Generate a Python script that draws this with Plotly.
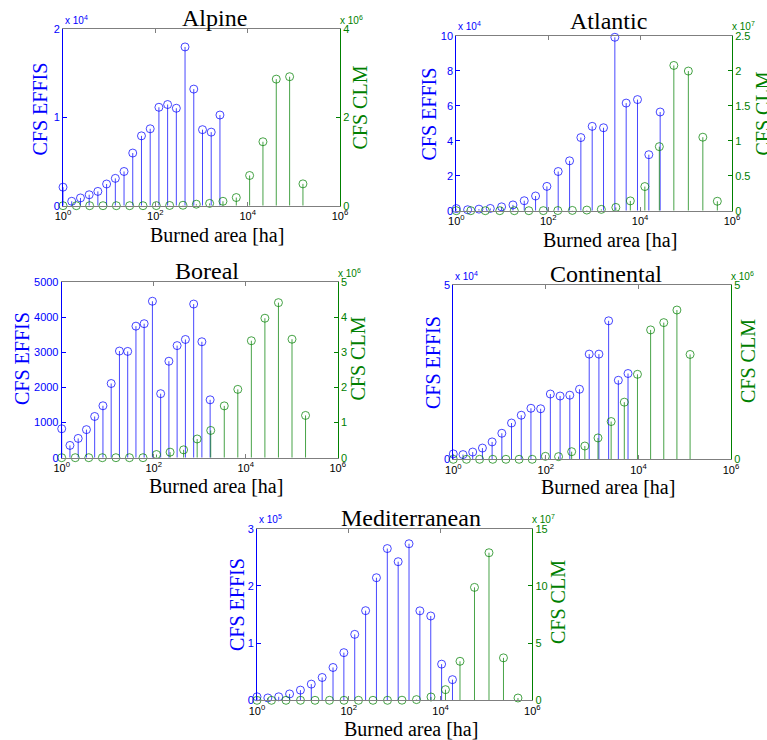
import plotly.graph_objects as go

W, H = 767, 740
BLUE = "rgb(0,0,255)"
GREEN = "rgb(0,128,0)"
STEM_BLUE = "rgba(0,0,255,0.72)"
STEM_GREEN = "rgba(0,128,0,0.72)"
GRAY = "#7f7f7f"
SERIF = "Liberation Serif, Times New Roman, serif"
SANS = "Liberation Sans, Arial, sans-serif"

# ---------------- data ----------------
regions = ["Alpine", "Atlantic", "Boreal", "Continental", "Mediterranean"]

alpine_effis_x = [1, 1.545, 2.39, 3.69, 5.69, 8.8, 13.6, 21.0, 32.4, 50.1, 77.4, 119.5, 184.6, 285, 440, 680, 1051, 1623, 2508]
alpine_effis = [2100, 500, 880, 1240, 1620, 2460, 3100, 3880, 5970, 7920, 8720, 11160, 11470, 11050, 18000, 13220, 8620, 8340, 10280]
alpine_clm_x = [1, 1.944, 3.78, 7.35, 14.3, 27.8, 54.0, 105, 204, 397, 772, 1500, 2917, 5670, 11020, 21430, 41660, 81000, 157500]
alpine_clm = [0, 0, 0, 0, 0, 0, 0, 2000, 5000, 10000, 34000, 52000, 100000, 185000, 685000, 1450000, 2870000, 2925000, 495000]

atlantic_effis_x = [1, 1.764, 3.11, 5.49, 9.68, 17.1, 30.1, 53.1, 93.7, 165, 292, 514, 907, 1600, 2822, 4977, 8780, 15490, 27320]
atlantic_effis = [1200, 550, 900, 1300, 2200, 3300, 5700, 8400, 13900, 22400, 28500, 41800, 48200, 47400, 99100, 61500, 63500, 32000, 56400]
atlantic_clm_x = [1, 2.068, 4.28, 8.85, 18.3, 37.9, 78.3, 162, 335, 693, 1433, 2964, 6130, 12680, 26220, 54230, 112200, 232000, 479800]
atlantic_clm = [0, 0, 0, 0, 0, 0, 10000, 20000, 40000, 90000, 190000, 470000, 1400000, 3450000, 9150000, 20750000, 19950000, 10500000, 1350000]

boreal_effis_x = [1, 1.511, 2.283, 3.45, 5.21, 7.88, 11.9, 18.0, 27.2, 41.1, 62.0, 93.8, 141.7, 214, 323, 489, 739, 1116, 1686]
boreal_effis = [825, 350, 550, 800, 1175, 1480, 2115, 3040, 3030, 3750, 3820, 4460, 1825, 2750, 3195, 3370, 4380, 3305, 1650]
boreal_clm_x = [1, 1.97, 3.88, 7.65, 15.1, 29.7, 58.5, 115, 227, 447, 881, 1736, 3420, 6737, 13270, 26150, 51520, 101500, 199900]
boreal_clm = [0, 0, 0, 0, 0, 0, 0, 90000, 158000, 224000, 534000, 777000, 1477000, 1948000, 3334000, 3976000, 4420000, 3377000, 1205000]

continental_effis_x = [1, 1.621, 2.627, 4.26, 6.90, 11.19, 18.1, 29.4, 47.6, 77.2, 125, 203, 329, 533, 864, 1400, 2270, 3680, 5960]
continental_effis = [1550, 1350, 2080, 3220, 4980, 7450, 10390, 12620, 14610, 14470, 18690, 18120, 18360, 20060, 30120, 30120, 39660, 22630, 24570]
continental_clm_x = [1, 1.924, 3.70, 7.12, 13.7, 26.4, 50.7, 97.6, 188, 361, 695, 1337, 2573, 4950, 9525, 18330, 35270, 67860, 130600]
continental_clm = [0, 0, 0, 0, 0, 0, 0, 85000, 76000, 218000, 380000, 612000, 1082000, 1636000, 2434000, 3705000, 3914000, 4275000, 3003000]

med_effis_x = [1, 1.724, 2.974, 5.13, 8.84, 15.25, 26.3, 45.4, 78.2, 134.9, 232.7, 401, 692, 1193, 2058, 3549, 6120, 10550, 18200]
med_effis = [6100, 4100, 6100, 11100, 17800, 28300, 39900, 57400, 83300, 115300, 156700, 214300, 265300, 242300, 273700, 156400, 147400, 63200, 36100]
med_clm_x = [1, 2.07, 4.29, 8.87, 18.4, 38.0, 78.7, 163, 337, 698, 1445, 2992, 6194, 12820, 26550, 54950, 113800, 235500, 487500]
med_clm = [0, 0, 0, 0, 0, 0, 0, 0, 0, 0, 100000, 600000, 2900000, 9300000, 34100000, 98700000, 129000000, 37100000, 2000000]

x_tickvals = [1, 1e2, 1e4, 1e6]
x_ticktext = ["10<sup>0</sup>", "10<sup>2</sup>", "10<sup>4</sup>", "10<sup>6</sup>"]

alpine_left_ticks = [0, 1e4, 2e4]
alpine_left_text = ["0", "1", "2"]
alpine_right_ticks = [0, 2e6, 4e6]
alpine_right_text = ["0", "2", "4"]

atlantic_left_ticks = [0, 2e4, 4e4, 6e4, 8e4, 1e5]
atlantic_left_text = ["0", "2", "4", "6", "8", "10"]
atlantic_right_ticks = [0, 5e6, 1e7, 1.5e7, 2e7, 2.5e7]
atlantic_right_text = ["0", "0.5", "1", "1.5", "2", "2.5"]

boreal_left_ticks = [0, 1000, 2000, 3000, 4000, 5000]
boreal_left_text = ["0", "1000", "2000", "3000", "4000", "5000"]
boreal_right_ticks = [0, 1e6, 2e6, 3e6, 4e6, 5e6]
boreal_right_text = ["0", "1", "2", "3", "4", "5"]

continental_left_ticks = [0, 5e4]
continental_left_text = ["0", "5"]
continental_right_ticks = [0, 5e6]
continental_right_text = ["0", "5"]

med_left_ticks = [0, 1e5, 2e5, 3e5]
med_left_text = ["0", "1", "2", "3"]
med_right_ticks = [0, 5e7, 1e8, 1.5e8]
med_right_text = ["0", "5", "10", "15"]

# ---------------- layout geometry (window pixels) ----------------
panels = [
    dict(name=regions[0], ex=alpine_effis_x, ey=alpine_effis, cx=alpine_clm_x, cy=alpine_clm,
         box=(63, 29.3, 340, 205.7), lmax=2e4, rmax=4e6,
         lt=alpine_left_ticks, ltt=alpine_left_text, rt=alpine_right_ticks, rtt=alpine_right_text,
         lmul="4", rmul="6", title=(214, 25), xlab=(217, 240.7),
         ylab_l=(40, 109.5), ylab_r=(359, 107.5), mul_base=23.5),
    dict(name=regions[1], ex=atlantic_effis_x, ey=atlantic_effis, cx=atlantic_clm_x, cy=atlantic_clm,
         box=(456.3, 35.7, 732, 210.7), lmax=1e5, rmax=2.5e7,
         lt=atlantic_left_ticks, ltt=atlantic_left_text, rt=atlantic_right_ticks, rtt=atlantic_right_text,
         lmul="4", rmul="7", title=(608, 28.3), xlab=(609.5, 246),
         ylab_l=(428, 114.5), ylab_r=(762, 113.5), mul_base=29),
    dict(name=regions[2], ex=boreal_effis_x, ey=boreal_effis, cx=boreal_clm_x, cy=boreal_clm,
         box=(61.7, 282.3, 337.7, 457.7), lmax=5000, rmax=5e6,
         lt=boreal_left_ticks, ltt=boreal_left_text, rt=boreal_right_ticks, rtt=boreal_right_text,
         lmul=None, rmul="6", title=(207, 278.3), xlab=(216, 491.7),
         ylab_l=(21.5, 358.5), ylab_r=(357, 358.5), mul_base=276),
    dict(name=regions[3], ex=continental_effis_x, ey=continental_effis, cx=continental_clm_x, cy=continental_clm,
         box=(453.3, 284.7, 731, 459.3), lmax=5e4, rmax=5e6,
         lt=continental_left_ticks, ltt=continental_left_text, rt=continental_right_ticks, rtt=continental_right_text,
         lmul="4", rmul="6", title=(606, 280.7), xlab=(607.5, 493),
         ylab_l=(432.5, 362.5), ylab_r=(748.5, 361.5), mul_base=278.5),
    dict(name=regions[4], ex=med_effis_x, ey=med_effis, cx=med_clm_x, cy=med_clm,
         box=(257, 528.7, 532.3, 700.3), lmax=3e5, rmax=1.5e8,
         lt=med_left_ticks, ltt=med_left_text, rt=med_right_ticks, rtt=med_right_text,
         lmul="5", rmul="7", title=(411, 525), xlab=(410.5, 735),
         ylab_l=(236.5, 604.5), ylab_r=(557.5, 602.5), mul_base=522),
]


def px(x):
    return x / W


def py(y):
    return 1 - y / H


def stems(xs, ys):
    sx, sy = [], []
    for x, y in zip(xs, ys):
        sx += [x, x, None]
        sy += [0, y, None]
    return sx, sy


fig = go.Figure()
annotations = []
layout = {}

for i, p in enumerate(panels, start=1):
    xa = "x" if i == 1 else f"x{i}"
    yl = "y" if i == 1 else f"y{i}"
    yr = f"y{i + 5}"
    x0, y0, x1, y1 = p["box"]

    # EFFIS (left axis)
    sx, sy = stems(p["ex"], p["ey"])
    fig.add_trace(go.Scatter(x=sx, y=sy, mode="lines", xaxis=xa, yaxis=yl,
                             line=dict(color=STEM_BLUE, width=1), hoverinfo="skip", showlegend=False))
    fig.add_trace(go.Scatter(x=p["ex"], y=p["ey"], mode="markers", xaxis=xa, yaxis=yl,
                             marker=dict(symbol="circle-open", size=8, color=STEM_BLUE,
                                         line=dict(width=1, color=STEM_BLUE)),
                             cliponaxis=False, showlegend=False))
    # CLM (right axis)
    sx, sy = stems(p["cx"], p["cy"])
    fig.add_trace(go.Scatter(x=sx, y=sy, mode="lines", xaxis=xa, yaxis=yr,
                             line=dict(color=STEM_GREEN, width=1), hoverinfo="skip", showlegend=False))
    fig.add_trace(go.Scatter(x=p["cx"], y=p["cy"], mode="markers", xaxis=xa, yaxis=yr,
                             marker=dict(symbol="circle-open", size=8, color=STEM_GREEN,
                                         line=dict(width=1, color=STEM_GREEN)),
                             cliponaxis=False, showlegend=False))

    xkey = "xaxis" if i == 1 else f"xaxis{i}"
    ylkey = "yaxis" if i == 1 else f"yaxis{i}"
    yrkey = f"yaxis{i + 5}"

    layout[xkey] = dict(
        domain=[px(x0), px(x1)], anchor=yl, type="log", range=[0, 6], automargin=False,
        tickvals=x_tickvals, ticktext=x_ticktext, tickfont=dict(family=SANS, size=11, color="black"),
        showline=True, linecolor=GRAY, linewidth=1, mirror="ticks",
        ticks="inside", ticklen=4, tickcolor=GRAY, showgrid=False, zeroline=False,
    )
    layout[ylkey] = dict(
        domain=[py(y1), py(y0)], anchor=xa, range=[0, p["lmax"]], automargin=False,
        tickvals=p["lt"], ticktext=p["ltt"], tickfont=dict(family=SANS, size=11, color=BLUE),
        showline=True, linecolor=BLUE, linewidth=1, ticks="inside", ticklen=4, tickcolor=BLUE,
        showgrid=False, zeroline=False,
    )
    layout[yrkey] = dict(
        overlaying=yl, side="right", anchor=xa, range=[0, p["rmax"]], automargin=False,
        tickvals=p["rt"], ticktext=p["rtt"], tickfont=dict(family=SANS, size=11, color=GREEN),
        showline=True, linecolor=GREEN, linewidth=1, ticks="inside", ticklen=4, tickcolor=GREEN,
        showgrid=False, zeroline=False,
    )

    # title
    tx, tb = p["title"]
    annotations.append(dict(text=p["name"], x=px(tx), y=py(tb - 0.3 * 24), xref="paper", yref="paper",
                            xanchor="center", yanchor="middle", showarrow=False,
                            font=dict(family=SERIF, size=24, color="black")))
    # x label
    lx, lb = p["xlab"]
    annotations.append(dict(text="Burned area [ha]", x=px(lx), y=py(lb - 0.3 * 20), xref="paper", yref="paper",
                            xanchor="center", yanchor="middle", showarrow=False,
                            font=dict(family=SERIF, size=20, color="black")))
    # y labels
    ex_, ey_ = p["ylab_l"]
    annotations.append(dict(text="CFS EFFIS", x=px(ex_), y=py(ey_), xref="paper", yref="paper",
                            xanchor="center", yanchor="middle", textangle=-90, showarrow=False,
                            font=dict(family=SERIF, size=20, color=BLUE)))
    cx_, cy_ = p["ylab_r"]
    annotations.append(dict(text="CFS CLM", x=px(cx_), y=py(cy_), xref="paper", yref="paper",
                            xanchor="center", yanchor="middle", textangle=-90, showarrow=False,
                            font=dict(family=SERIF, size=20, color=GREEN)))
    # multipliers
    mb = p["mul_base"]
    if p["lmul"]:
        annotations.append(dict(text=f"x 10<sup>{p['lmul']}</sup>", x=px(x0), y=py(mb - 3), xref="paper",
                                yref="paper", xanchor="left", yanchor="middle", showarrow=False,
                                font=dict(family=SANS, size=10, color=BLUE)))
    if p["rmul"]:
        annotations.append(dict(text=f"x 10<sup>{p['rmul']}</sup>", x=px(x1 - 2), y=py(mb - 3), xref="paper",
                                yref="paper", xanchor="left", yanchor="middle", showarrow=False,
                                font=dict(family=SANS, size=10, color=GREEN)))

fig.update_layout(
    width=W, height=H, margin=dict(l=0, r=0, t=0, b=0, pad=0, autoexpand=False),
    paper_bgcolor="white", plot_bgcolor="white",
    showlegend=False, annotations=annotations, **layout,
)

fig.write_html(
    "out.html",
    config={"displayModeBar": False},
    post_script="document.body.style.margin='0';document.body.style.overflow='hidden';",
)
